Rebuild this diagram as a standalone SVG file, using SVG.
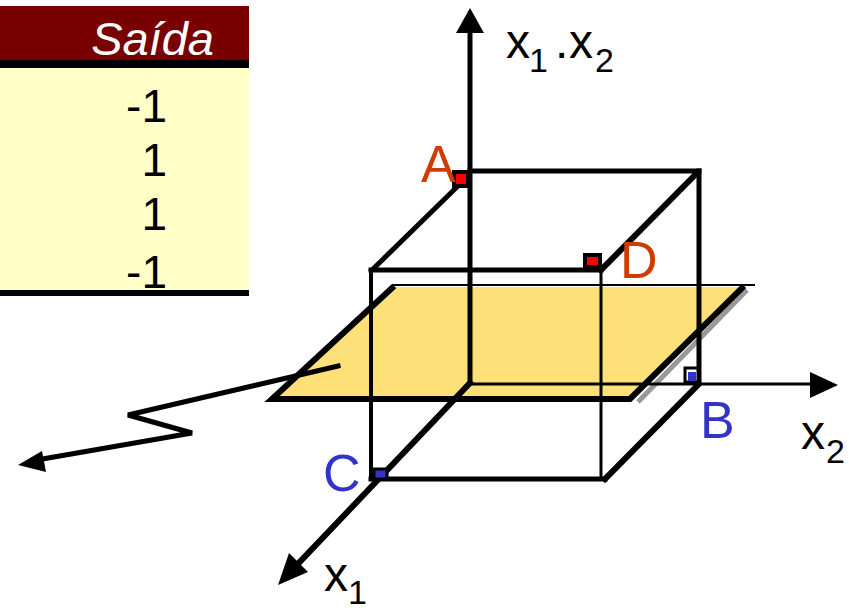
<svg xmlns="http://www.w3.org/2000/svg" width="849" height="612" viewBox="0 0 849 612">
<style>
.ln{stroke:#000;fill:none;stroke-linecap:square}
.lbl{font-family:"Liberation Sans",Arial,sans-serif}
.num{font-family:"Liberation Sans",Arial,sans-serif;font-size:46px;fill:#000;text-anchor:end}
.red{fill:#d03c00;font-size:52px}
.blue{fill:#3333cc;font-size:52px}
.ax{font-size:48px;fill:#000}
.sub{font-size:34px;fill:#000}
</style>
<rect width="849" height="612" fill="#fff"/>
<g id="table">
  <rect x="0" y="6" width="249" height="55" fill="#780000"/>
  <rect x="0" y="60" width="249" height="8" fill="#000"/>
  <rect x="0" y="68" width="249" height="222" fill="#ffffc8"/>
  <rect x="0" y="290" width="249" height="6" fill="#000"/>
  <text x="214" y="55" class="lbl" font-size="47" font-style="italic" fill="#fff" text-anchor="end">Saída</text>
  <text x="167" y="122" class="num">-1</text>
  <text x="167" y="176" class="num">1</text>
  <text x="167" y="230" class="num">1</text>
  <text x="167" y="288" class="num">-1</text>
</g>
<g id="plane">
  <line x1="747" y1="290" x2="638" y2="402" stroke="#999" stroke-width="5"/>
  <polygon points="392,287 742,287 630,399 272,399" fill="#fde178"/>
  <line x1="392" y1="285" x2="755" y2="285" stroke="#000" stroke-width="2"/>
  <polyline class="ln" points="392,288 272,399 630,399 742,288" stroke-width="6" stroke-linejoin="miter" stroke-linecap="butt"/>
</g>
<g id="connectors">
  <line class="ln" x1="470" y1="30" x2="470" y2="383" stroke-width="5" stroke-linecap="butt"/>
  <polygon points="470,8 484,33 456,33" fill="#000"/>
  <line class="ln" x1="470" y1="384" x2="815" y2="384" stroke-width="3" stroke-linecap="butt"/>
  <polygon points="838,385 810,372 810,398" fill="#000"/>
  <line class="ln" x1="470" y1="383" x2="295" y2="567" stroke-width="6" stroke-linecap="butt"/>
  <polygon points="278,585 289,553 308,572" fill="#000"/>
  <polyline class="ln" points="338,366 128,415 192,433 42,459" stroke-width="5" stroke-linejoin="miter" stroke-linecap="butt"/>
  <polygon points="18,465 42,451 46,472" fill="#000"/>
</g>
<g id="box">
  <line class="ln" x1="470" y1="171" x2="699" y2="171" stroke-width="5"/>
  <line class="ln" x1="699" y1="171" x2="699" y2="383" stroke-width="5"/>
  <line class="ln" x1="460" y1="184" x2="372" y2="270" stroke-width="5"/>
  <line class="ln" x1="697" y1="173" x2="601" y2="270" stroke-width="6"/>
  <line class="ln" x1="371" y1="270" x2="601" y2="270" stroke-width="5"/>
  <line class="ln" x1="371" y1="270" x2="371" y2="478" stroke-width="4"/>
  <line class="ln" x1="601" y1="270" x2="601" y2="478" stroke-width="3"/>
  <line class="ln" x1="371" y1="479" x2="605" y2="479" stroke-width="5"/>
  <line class="ln" x1="699" y1="384" x2="605" y2="479" stroke-width="6"/>
</g>
<g id="point-A">
  <rect x="454" y="172" width="14" height="14" fill="#ff0000" stroke="#000" stroke-width="4"/>
  <text x="421" y="182" class="lbl red">A</text>
</g>
<g id="point-D">
  <rect x="585" y="255" width="15" height="12" fill="#ff0000" stroke="#000" stroke-width="4"/>
  <text x="620" y="278" class="lbl red">D</text>
</g>
<g id="point-B">
  <rect x="685" y="368" width="13" height="14" fill="#fff" stroke="#000" stroke-width="3"/>
  <rect x="688" y="372" width="8" height="9" fill="#3333cc"/>
  <text x="700" y="438" class="lbl blue">B</text>
</g>
<g id="point-C">
  <rect x="374" y="469" width="13" height="10" fill="#3333cc" stroke="#000" stroke-width="3"/>
  <text x="323" y="491" class="lbl blue">C</text>
</g>
<g id="axis-labels">
  <text class="lbl"><tspan x="506" y="58" class="ax">x</tspan><tspan x="529" y="72" class="sub">1</tspan><tspan x="555" y="58" class="ax">.</tspan><tspan x="569" y="58" class="ax">x</tspan><tspan x="595" y="72" class="sub">2</tspan></text>
  <text class="lbl"><tspan x="801" y="449" class="ax">x</tspan><tspan x="826" y="463" class="sub">2</tspan></text>
  <text class="lbl"><tspan x="324" y="591" class="ax">x</tspan><tspan x="348" y="604" class="sub">1</tspan></text>
</g>
</svg>
